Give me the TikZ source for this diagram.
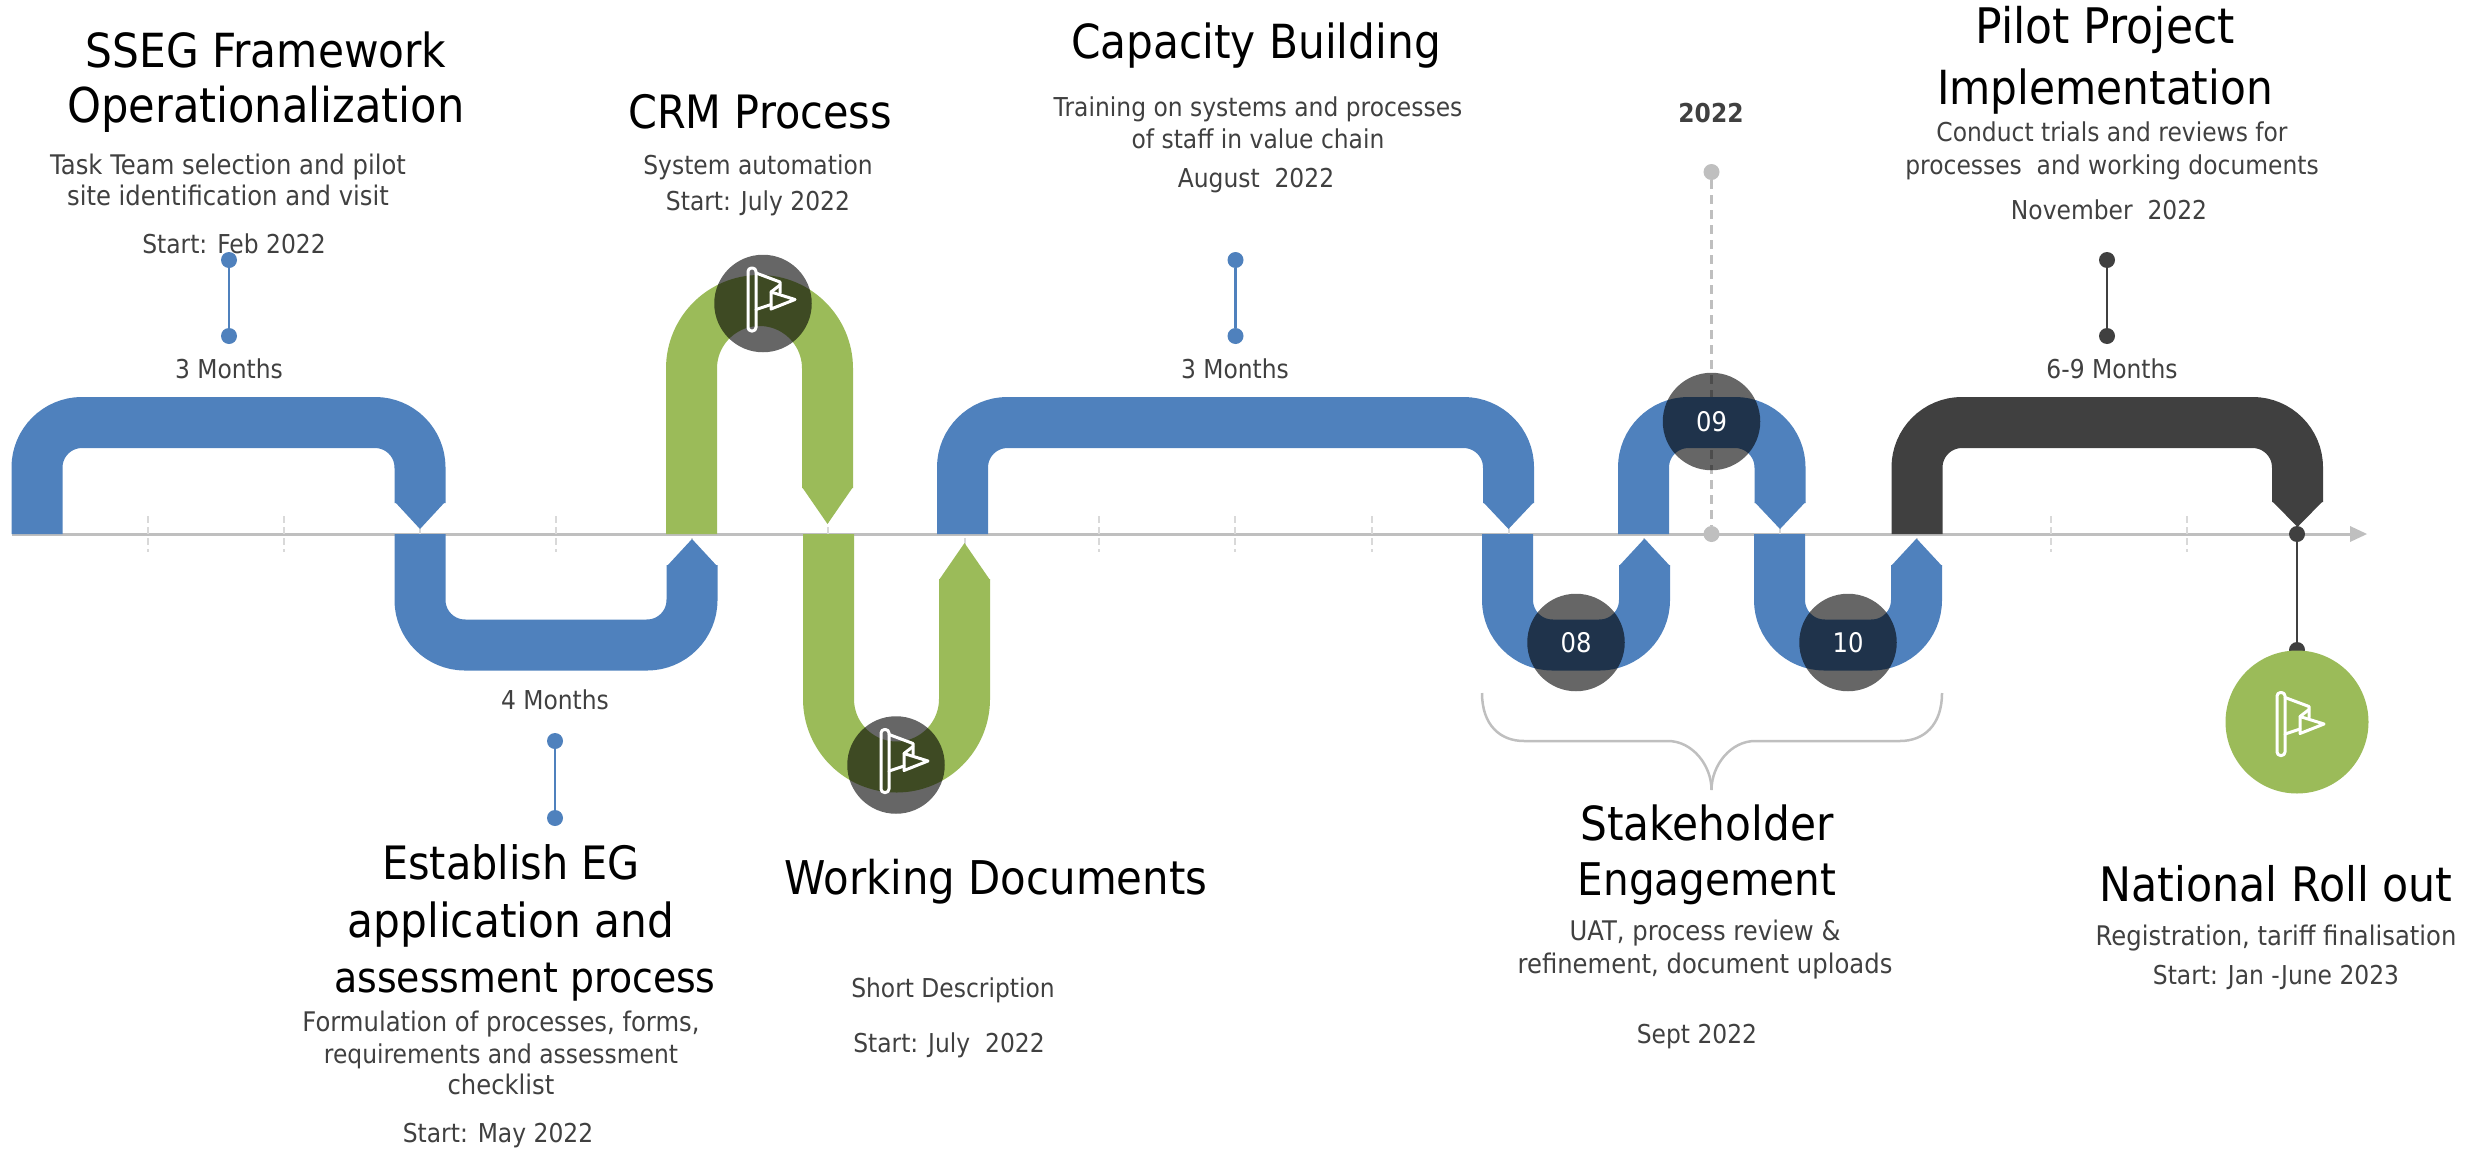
\documentclass[tikz,border=0pt]{standalone}
\usepackage{fontspec}
\setmainfont[FakeStretch=0.9]{DejaVu Sans}
\definecolor{bandblue}{HTML}{4F81BD}
\definecolor{bandgreen}{HTML}{9BBB59}
\definecolor{banddark}{HTML}{404040}
\definecolor{axisgrey}{HTML}{BFBFBF}
\definecolor{tickgrey}{HTML}{D9D9D9}
\definecolor{bodytext}{HTML}{404040}
\tikzset{
  band/.style={draw=#1,line width=51pt,rounded corners=45pt,line cap=butt,line join=miter},
  garch/.style={draw=bandgreen,line width=51pt,rounded corners=68pt,line cap=butt},
  tickmark/.style={draw=tickgrey,line width=2pt,dash pattern=on 7pt off 4pt},
  badge/.style={circle,fill=black,fill opacity=0.6,text opacity=1,minimum size=97.5pt,inner sep=0pt,text=white,font=\fontsize{27}{32}\selectfont},
  dotmark/.style={circle,fill=#1,minimum size=16pt,inner sep=0pt},
  title/.style={font=\fontsize{47}{56}\selectfont,text=black,inner sep=0pt,anchor=center},
  titlesmall/.style={font=\fontsize{46}{56}\selectfont,text=black,inner sep=0pt,anchor=center},
  body/.style={font=\fontsize{26}{32}\selectfont,text=bodytext,inner sep=0pt,anchor=center},
  bodywide/.style={font=\fontsize{27}{32}\selectfont,text=bodytext,inner sep=0pt,anchor=center},
  flagline/.style={draw=white,line width=3pt,line join=round,line cap=round},
}
\newcommand{\flagicon}[2]{%
  \begin{scope}[shift={(#1,#2)}]
    \draw[flagline,rounded corners=3.5pt] (0,0) rectangle (8,63);
    \draw[flagline] (8,5) -- (32,14) -- (32,25);
    \draw[flagline] (23,24) -- (47,31.5) -- (23,41) -- cycle;
    \draw[flagline] (8,41.5) -- (23,36.5);
    \draw[flagline] (23,24) -- (32,17);
  \end{scope}}
\begin{document}
\begin{tikzpicture}[x=1pt,y=-1pt]
\useasboundingbox (0,0) rectangle (2471,1154);
% axis
\coordinate (axisstart) at (12,534);
\coordinate (axisend) at (2352,534);
\draw[axisgrey,line width=3pt] (axisstart) -- (axisend);
\fill[axisgrey] (2350,526) -- (2367,534) -- (2350,542) -- cycle;
% ticks
\foreach \tx in {148,284,556,1099,1235,1372,2051,2187,420,692,827.5,964.5,1508.5,1643.5,1780,1916.5}
  \draw[tickmark] (\tx,516) -- (\tx,552);
% dashed milestone
\node[dotmark=axisgrey] (dtop) at (1711.5,172) {};
\node[dotmark=axisgrey] (dbot) at (1711.5,534) {};
\draw[axisgrey,line width=2.5pt,dash pattern=on 9pt off 6pt] (dtop) -- (dbot);
% bands
\draw[band=bandblue] (37,534) -- (37,422.5) -- (420,422.5) -- (420,503);
\fill[bandblue] (395,502) -- (445,502) -- (420,529) -- cycle;
\draw[band=bandblue] (420,534) -- (420,645) -- (692,645) -- (692,565);
\fill[bandblue] (667,566) -- (717,566) -- (692,539) -- cycle;
\draw[garch] (691.5,534) -- (691.5,300.5) -- (827.5,300.5) -- (827.5,488);
\fill[bandgreen] (802,487) -- (853,487) -- (827.5,524) -- cycle;
\draw[garch] (828.5,534) -- (828.5,767) -- (964.5,767) -- (964.5,579);
\fill[bandgreen] (939,580) -- (990,580) -- (964.5,543) -- cycle;
\draw[band=bandblue] (962.5,534) -- (962.5,422.5) -- (1508.5,422.5) -- (1508.5,503);
\fill[bandblue] (1483,502) -- (1534,502) -- (1508.5,529) -- cycle;
\draw[band=bandblue] (1507.5,534) -- (1507.5,645) -- (1644.5,645) -- (1644.5,565);
\fill[bandblue] (1619,566) -- (1670,566) -- (1644.5,538.5) -- cycle;
\draw[band=bandblue] (1643.5,534) -- (1643.5,422.5) -- (1780,422.5) -- (1780,503);
\fill[bandblue] (1754.5,502) -- (1805.5,502) -- (1780,529) -- cycle;
\draw[band=bandblue] (1779.5,534) -- (1779.5,645) -- (1916.5,645) -- (1916.5,565);
\fill[bandblue] (1891,566) -- (1942,566) -- (1916.5,538.5) -- cycle;
\draw[band=banddark] (1917,534) -- (1917,422.5) -- (2297.5,422.5) -- (2297.5,502);
\fill[banddark] (2272,501) -- (2323,501) -- (2297.5,527) -- cycle;
% badges
\node[badge] (b1) at (763,303.5) {};
\flagicon{748}{268}
\node[badge] (b2) at (896,765) {};
\flagicon{881}{729.5}
\node[badge] (b08) at (1576,642.5) {08};
\node[badge] (b09) at (1711.5,421.5) {09};
\node[badge] (b10) at (1848,642.5) {10};
% pins
\node[dotmark=bandblue] (p1a) at (229,260) {};
\node[dotmark=bandblue] (p1b) at (229,336) {};
\draw[bandblue,line width=2.5pt] (p1a) -- (p1b);
\node[dotmark=bandblue] (p2a) at (555,741) {};
\node[dotmark=bandblue] (p2b) at (555,818) {};
\draw[bandblue,line width=2.5pt] (p2a) -- (p2b);
\node[dotmark=bandblue] (p3a) at (1235.5,260) {};
\node[dotmark=bandblue] (p3b) at (1235.5,336) {};
\draw[bandblue,line width=2.5pt] (p3a) -- (p3b);
\node[dotmark=banddark] (p4a) at (2107,260) {};
\node[dotmark=banddark] (p4b) at (2107,336) {};
\draw[banddark,line width=2.5pt] (p4a) -- (p4b);
\node[dotmark=banddark] (p5a) at (2297,534) {};
\node[dotmark=banddark] (p5b) at (2297,650) {};
\draw[banddark,line width=2.5pt] (p5a) -- (p5b);
\node[circle,fill=bandgreen,minimum size=143pt,inner sep=0pt] (goal) at (2297,722) {};
\flagicon{2277}{692.5}
% brace
\coordinate (brL) at (1482,693);
\coordinate (brR) at (1942,693);
\coordinate (brM) at (1711.5,790);
\draw[axisgrey,line width=2.5pt] (brL) .. controls (1482,725) and (1500,741) .. (1524,741) -- (1668,741) .. controls (1692,741) and (1711.5,765) .. (brM);
\draw[axisgrey,line width=2.5pt] (brR) .. controls (1942,725) and (1924,741) .. (1900,741) -- (1755,741) .. controls (1731,741) and (1711.5,765) .. (brM);
% text
\node[title] (t1a) at (266,50) {SSEG Framework};
\node[title,font=\fontsize{48}{56}\selectfont] (t1b) at (266,109) {Operationalization};
\node[bodywide] (d1a) at (228,167) {Task Team selection and pilot};
\node[bodywide] (d1b) at (228,195) {site identification and visit};
\node[body] (d1c) at (234,244) {Start: Feb 2022};
\node[body] (m1) at (229,369) {3 Months};
\node[titlesmall] (t2) at (760,112) {CRM Process};
\node[body] (d2a) at (758,167) {System automation};
\node[body] (d2b) at (758,203) {Start: July 2022};
\node[title] (t3) at (1256,46) {Capacity Building};
\node[body] (d3a) at (1258,109) {Training on systems and processes};
\node[body] (d3b) at (1258,139) {of staff in value chain};
\node[body] (d3c) at (1256,181) {August\ \ 2022};
\node[body] (m3) at (1235,369) {3 Months};
\node[body,font=\fontsize{26}{32}\selectfont\bfseries,text=bodytext] (y22) at (1711,113) {2022};
\node[title,font=\fontsize{49}{56}\selectfont] (t4a) at (2105,30) {Pilot Project};
\node[title] (t4b) at (2105,92) {Implementation};
\node[body] (d4a) at (2112,132) {Conduct trials and reviews for};
\node[body] (d4b) at (2112,167) {processes\ \ and working documents};
\node[body] (d4c) at (2109,210) {November\ \ 2022};
\node[body] (m4) at (2112,369) {6-9 Months};
\node[body] (m2) at (555,700) {4 Months};
\node[titlesmall] (t5a) at (511,862) {Establish EG};
\node[title] (t5b) at (511,925) {application and};
\node[title,font=\fontsize{42}{56}\selectfont] (t5c) at (525,982) {assessment process};
\node[bodywide] (d5a) at (501,1024) {Formulation of processes, forms,};
\node[body] (d5b) at (501,1056) {requirements and assessment};
\node[bodywide] (d5c) at (501,1084) {checklist};
\node[body] (d5d) at (498,1136) {Start: May 2022};
\node[title,font=\fontsize{46.5}{56}\selectfont] (t6) at (996,882) {Working Documents};
\node[body] (d6a) at (953,990) {Short Description};
\node[body] (d6b) at (949,1045) {Start: July\ \ 2022};
\node[title] (t7a) at (1707,823) {Stakeholder};
\node[title,font=\fontsize{45}{56}\selectfont] (t7b) at (1707,884) {Engagement};
\node[bodywide] (d7a) at (1705,933) {UAT, process review \&};
\node[bodywide] (d7b) at (1705,966) {refinement, document uploads};
\node[body] (d7c) at (1697,1037) {Sept 2022};
\node[title,font=\fontsize{47.5}{56}\selectfont] (t8) at (2276,884) {National Roll out};
\node[bodywide] (d8a) at (2276,938) {Registration, tariff finalisation};
\node[body] (d8b) at (2276,977) {Start: Jan -June 2023};
\end{tikzpicture}
\end{document}
